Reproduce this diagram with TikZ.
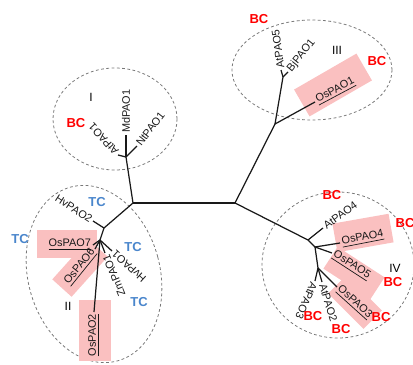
\documentclass[tikz,border=0pt]{standalone}
\usepackage{fontspec}
\setmainfont{Liberation Sans}
\newlength\px
\setlength\px{0.02cm}
\definecolor{bcred}{RGB}{255,0,0}
\definecolor{tcblue}{RGB}{74,134,204}
\definecolor{pinkbox}{RGB}{250,192,192}
\definecolor{ellgray}{RGB}{120,120,120}
\begin{document}
\begin{tikzpicture}[x=0.02cm,y=-0.02cm,
  branch/.style={line width=0.7pt,black!90},
  lbl/.style={font=\fontsize{6.2}{7}\selectfont, inner sep=1pt, text=black!90},
  bclbl/.style={font=\fontsize{7.4}{8}\selectfont\bfseries, text=bcred, inner sep=0pt},
  tclbl/.style={font=\fontsize{7.4}{8}\selectfont\bfseries, text=tcblue, inner sep=0pt},
  roman/.style={font=\fontsize{6.8}{8}\selectfont, inner sep=0pt},
  hl/.style={fill=pinkbox, draw=none, inner sep=0pt},
  clade/.style={ellgray, line width=0.45pt, dash pattern=on 1.6pt off 1.4pt}
]
\useasboundingbox (0,0) rectangle (413,365);

% clade ellipses
\draw[clade] (115,119) ellipse [x radius=62\px, y radius=51\px];
\draw[clade, rotate around={15:(94,274)}] (94,274) ellipse [x radius=66\px, y radius=90\px];
\draw[clade] (312,70) ellipse [x radius=80\px, y radius=50\px];
\draw[clade] (338,265) ellipse [x radius=76\px, y radius=73\px];

% highlight boxes
\node[hl, minimum width=72\px, minimum height=31\px, rotate=30] (hlOs1) at (333,85) {};
\node[hl, minimum width=60\px, minimum height=28\px] (hlOs7) at (67,244) {};
\node[hl, minimum width=54\px, minimum height=26\px, rotate=48] (hlOs6) at (80,268) {};
\node[hl, minimum width=32\px, minimum height=61\px] (hlOs2) at (95,330) {};
\node[hl, minimum width=57\px, minimum height=29\px, rotate=10] (hlOs4) at (363,233) {};
\node[hl, minimum width=56\px, minimum height=26\px, rotate=-33] (hlOs5) at (354,273) {};
\node[hl, minimum width=50\px, minimum height=26\px, rotate=-45] (hlOs3) at (355,302) {};

% tree coordinates
\coordinate (L) at (133,203);
\coordinate (R) at (235,203);
\coordinate (nI) at (126,157);
\coordinate (tMd) at (126,135);
\coordinate (tNt) at (137,146);
\coordinate (tAt1) at (118,155);
\coordinate (nIIa) at (104,228);
\coordinate (tHv2) at (93,221);
\coordinate (nIIb) at (100,240);
\coordinate (tOs7) at (93,245);
\coordinate (tOs6) at (95,249);
\coordinate (tHv1) at (112,251);
\coordinate (tZm) at (105,253);
\coordinate (tOs2) at (94,312);
\coordinate (nIII) at (275,124);
\coordinate (nIIIb) at (283,77);
\coordinate (tAt5) at (281,70);
\coordinate (tBj) at (288,72);
\coordinate (tOs1) at (315,102);
\coordinate (nIVa) at (308,240);
\coordinate (tAt4) at (323,228);
\coordinate (nIVb) at (315,247);
\coordinate (tOs4) at (340,243);
\coordinate (tOs5) at (332,253);
\coordinate (nIVc) at (318,268);
\coordinate (tAt3) at (315,281);
\coordinate (tAt2) at (322,282);
\coordinate (tOs3) at (337,287);

% branches
\draw[branch] (L) -- (R);
\draw[branch] (L) -- (nI);
\draw[branch] (nI) -- (tMd);
\draw[branch] (nI) -- (tNt);
\draw[branch] (nI) -- (tAt1);
\draw[branch] (L) -- (nIIa);
\draw[branch] (nIIa) -- (tHv2);
\draw[branch] (nIIa) -- (nIIb);
\draw[branch] (nIIb) -- (tOs7);
\draw[branch] (nIIb) -- (tOs6);
\draw[branch] (nIIb) -- (tHv1);
\draw[branch] (nIIb) -- (tZm);
\draw[branch] (nIIb) -- (tOs2);
\draw[branch] (R) -- (nIII);
\draw[branch] (nIII) -- (nIIIb);
\draw[branch] (nIIIb) -- (tAt5);
\draw[branch] (nIIIb) -- (tBj);
\draw[branch] (nIII) -- (tOs1);
\draw[branch] (R) -- (nIVa);
\draw[branch] (nIVa) -- (tAt4);
\draw[branch] (nIVa) -- (nIVb);
\draw[branch] (nIVb) -- (tOs4);
\draw[branch] (nIVb) -- (tOs5);
\draw[branch] (nIVb) -- (nIVc);
\draw[branch] (nIVc) -- (tAt3);
\draw[branch] (nIVc) -- (tAt2);
\draw[branch] (nIVc) -- (tOs3);

% leaf labels
\node[lbl, anchor=west, rotate=132] (lAt1) at (tAt1) {AtPAO1};
\node[lbl, anchor=west, rotate=90] (lMd) at (tMd) {MdPAO1};
\node[lbl, anchor=west, rotate=52] (lNt) at (tNt) {NtPAO1};
\node[lbl, anchor=east, rotate=-33] (lHv2) at (tHv2) {HvPAO2};
\node[lbl, anchor=east] (lOs7) at (tOs7) {\underline{OsPAO7}};
\node[lbl, anchor=east, rotate=51] (lOs6) at (tOs6) {\underline{OsPAO6}};
\node[lbl, anchor=east, rotate=138] (lHv1) at (tHv1) {HvPAO1};
\node[lbl, anchor=east, rotate=112] (lZm) at (tZm) {ZmPAO1};
\node[lbl, anchor=east, rotate=90] (lOs2) at (tOs2) {\underline{OsPAO2}};
\node[lbl, anchor=west, rotate=98] (lAt5) at (tAt5) {AtPAO5};
\node[lbl, anchor=west, rotate=51] (lBj) at (tBj) {BjPAO1};
\node[lbl, anchor=west, rotate=28] (lOs1) at (tOs1) {\underline{OsPAO1}};
\node[lbl, anchor=west, rotate=36] (lAt4) at (tAt4) {AtPAO4};
\node[lbl, anchor=west, rotate=11] (lOs4) at (tOs4) {\underline{OsPAO4}};
\node[lbl, anchor=west, rotate=-33] (lOs5) at (tOs5) {\underline{OsPAO5}};
\node[lbl, anchor=west, rotate=-42] (lOs3) at (tOs3) {\underline{OsPAO3}};
\node[lbl, anchor=west, rotate=-73] (lAt2) at (tAt2) {AtPAO2};
\node[lbl, anchor=west, rotate=-114] (lAt3) at (tAt3) {AtPAO3};

% clade numerals
\node[roman] (rI) at (91,97) {I};
\node[roman] (rII) at (68,306) {II};
\node[roman] (rIII) at (337,50) {III};
\node[roman] (rIV) at (395,268) {IV};

% BC / TC tags
\node[bclbl] (bc1) at (259,19) {BC};
\node[bclbl] (bc2) at (377,61) {BC};
\node[bclbl] (bc3) at (76,123) {BC};
\node[bclbl] (bc4) at (332,195) {BC};
\node[bclbl] (bc5) at (405,223) {BC};
\node[bclbl] (bc6) at (393,282) {BC};
\node[bclbl] (bc7) at (381,317) {BC};
\node[bclbl] (bc8) at (313,316) {BC};
\node[bclbl] (bc9) at (341,329) {BC};
\node[tclbl] (tc1) at (97,202) {TC};
\node[tclbl] (tc2) at (20,239) {TC};
\node[tclbl] (tc3) at (133,247) {TC};
\node[tclbl] (tc4) at (139,302) {TC};
\end{tikzpicture}
\end{document}
